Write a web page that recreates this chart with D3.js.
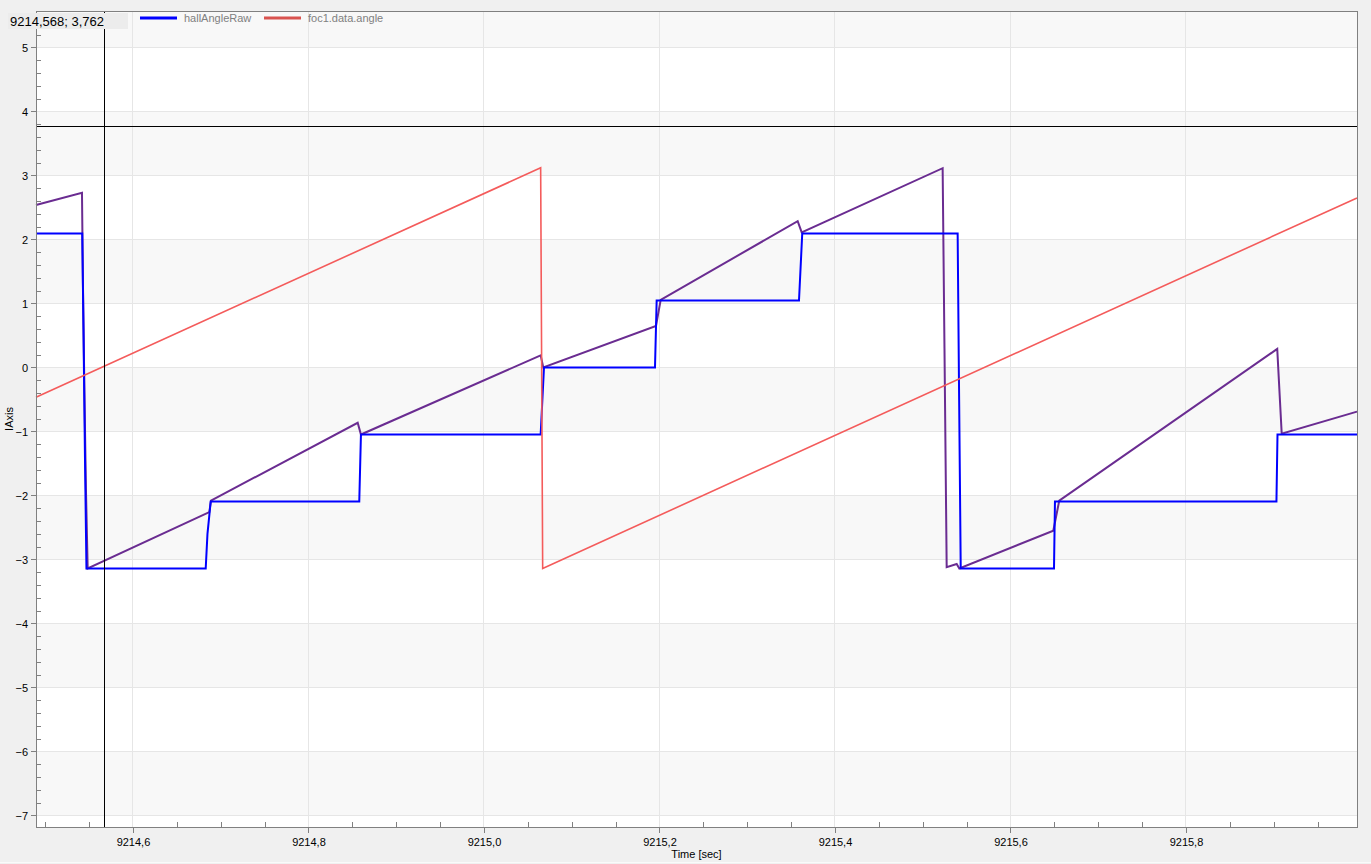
<!DOCTYPE html>
<html>
<head>
<meta charset="utf-8">
<script src="https://cdn.jsdelivr.net/npm/d3@7"></script>
<style>
  body { margin: 0; background: #f0f0f0; overflow: hidden; }
  svg { display: block; font-family: "Liberation Sans", Arial, sans-serif; }
</style>
</head>
<body>
<svg id="chart"></svg>
<script>
const width = 1371;
const height = 864;
const margin = {left: 36, top: 11, right: 14, bottom: 37};

// [time in sec, value]
const hallAngleRaw = [
  [9214.4895, 2.094], [9214.5422, 2.094], [9214.5436, 0.6], [9214.5453, -1.4], [9214.5470, -3.14],
  [9214.6829, -3.14], [9214.6849, -2.6], [9214.6886, -2.094], [9214.8579, -2.094], [9214.8598, -1.047],
  [9215.0646, -1.047], [9215.0684, 0], [9215.1949, 0], [9215.1968, 1.047], [9215.3590, 1.047],
  [9215.3627, 2.094], [9215.5398, 2.094], [9215.5415, -0.5], [9215.5433, -3.14], [9215.6496, -3.14],
  [9215.6507, -2.094], [9215.9031, -2.094], [9215.9043, -1.047], [9215.9949, -1.047]
];
const focAngle = [
  [9214.4895, -0.464], [9215.0646, 3.12], [9215.0669, -3.14], [9215.9949, 2.65]
];
// third trace, drawn without a legend entry
const estAngle = [
  [9214.4895, 2.54], [9214.5419, 2.73], [9214.5430, 1.3], [9214.5447, -0.4], [9214.5464, -1.9],
  [9214.5484, -3.14], [9214.6870, -2.26], [9214.6889, -2.08], [9214.8561, -0.864], [9214.8598, -1.047],
  [9215.0646, 0.19], [9215.0676, 0.0], [9215.1960, 0.65], [9215.2014, 1.058], [9215.3575, 2.286],
  [9215.3621, 2.11], [9215.5227, 3.114], [9215.5248, 0.3], [9215.5273, -3.12], [9215.5387, -3.07],
  [9215.5417, -3.14], [9215.6488, -2.55], [9215.6556, -2.08], [9215.9040, 0.29], [9215.9091, -1.036],
  [9215.9949, -0.69]
];

const xTicks = [9214.6, 9214.8, 9215.0, 9215.2, 9215.4, 9215.6, 9215.8];
const yTicks = [-7, -6, -5, -4, -3, -2, -1, 0, 1, 2, 3, 4, 5];
const legendNames = ['hallAngleRaw', 'foc1.data.angle'];
const cursor = [9214.568, 3.762];

const svg = d3.select('#chart').attr('width', width).attr('height', height);

const x = d3.scaleLinear()
  .domain([9214.4895, 9215.9949])
  .range([margin.left, width - margin.right]);
const y = d3.scaleLinear()
  .domain([-7.1797, 5.5703])
  .range([height - margin.bottom, margin.top]);

const pLeft = margin.left, pRight = width - margin.right;
const pTop = margin.top, pBottom = height - margin.bottom;

// plot background with alternating bands
svg.append('rect').attr('x', pLeft).attr('y', pTop)
  .attr('width', pRight - pLeft).attr('height', pBottom - pTop).attr('fill', '#ffffff');

const bandEdges = [-8, ...yTicks, 6];
const bands = svg.append('g').attr('shape-rendering', 'crispEdges');
for (let i = 0; i < bandEdges.length - 1; i++) {
  const v0 = bandEdges[i], v1 = bandEdges[i + 1];
  if (Math.abs(v0) % 2 !== 1) continue;
  const yTop = Math.max(y(v1), pTop), yBot = Math.min(y(v0), pBottom);
  if (yBot <= yTop) continue;
  bands.append('rect').attr('x', pLeft).attr('y', yTop)
    .attr('width', pRight - pLeft).attr('height', yBot - yTop).attr('fill', '#f8f8f8');
}

// grid
const grid = svg.append('g').attr('stroke', '#e6e6e6').attr('shape-rendering', 'crispEdges');
grid.selectAll('.gy').data(yTicks).enter().append('line')
  .attr('x1', pLeft).attr('x2', pRight).attr('y1', d => y(d)).attr('y2', d => y(d));
grid.selectAll('.gx').data(xTicks).enter().append('line')
  .attr('y1', pTop).attr('y2', pBottom).attr('x1', d => x(d)).attr('x2', d => x(d));

// series
const line = d3.line().x(d => x(d[0])).y(d => y(d[1]));
const plot = svg.append('g');
plot.append('path').datum(estAngle).attr('d', line)
  .attr('fill', 'none').attr('stroke', '#6a2c91').attr('stroke-width', 2);
plot.append('path').datum(hallAngleRaw).attr('d', line)
  .attr('fill', 'none').attr('stroke', '#0000ff').attr('stroke-width', 2);
plot.append('path').datum(focAngle).attr('d', line)
  .attr('fill', 'none').attr('stroke', '#f45b5b').attr('stroke-width', 1.6);

// cursor
const cur = svg.append('g').attr('stroke', '#000').attr('shape-rendering', 'crispEdges');
cur.append('line').attr('x1', x(cursor[0])).attr('x2', x(cursor[0])).attr('y1', pTop).attr('y2', pBottom);
cur.append('line').attr('x1', pLeft).attr('x2', pRight).attr('y1', y(cursor[1])).attr('y2', y(cursor[1]));

// frame
svg.append('rect').attr('x', pLeft).attr('y', pTop)
  .attr('width', pRight - pLeft).attr('height', pBottom - pTop)
  .attr('fill', 'none').attr('stroke', '#808080').attr('shape-rendering', 'crispEdges');

const fmt = d => d3.format('.1f')(d).replace('.', ',');

// axes
const yAxis = svg.append('g').attr('transform', `translate(${pLeft},0)`)
  .call(d3.axisLeft(y).tickValues(yTicks).tickSize(5).tickPadding(3).tickFormat(d3.format('d')));
const yMinor = svg.append('g').attr('transform', `translate(${pLeft},0)`)
  .call(d3.axisRight(y).tickValues(d3.range(-7, 5.6, 0.2).filter(v => Math.abs(v - Math.round(v)) > 0.01))
    .tickSize(5).tickFormat(''));
const xAxis = svg.append('g').attr('transform', `translate(0,${pBottom})`)
  .call(d3.axisBottom(x).tickValues(xTicks).tickSize(6).tickPadding(5).tickFormat(fmt));
const xMinor = svg.append('g').attr('transform', `translate(0,${pBottom})`)
  .call(d3.axisTop(x).tickValues(d3.range(9214.5, 9216, 0.05).filter(v => Math.abs(v * 5 - Math.round(v * 5)) > 0.01))
    .tickSize(5).tickFormat(''));

[yAxis, yMinor, xAxis, xMinor].forEach(a => {
  a.select('.domain').remove();
  a.selectAll('line').attr('stroke', '#808080').attr('shape-rendering', 'crispEdges');
  a.selectAll('text').attr('fill', '#000').style('font-size', '11px')
    .style('font-family', '"Liberation Sans", Arial, sans-serif');
});

// axis titles
svg.append('text').attr('x', (pLeft + pRight) / 2).attr('y', 858)
  .attr('text-anchor', 'middle').style('font-size', '11px').text('Time [sec]');
svg.append('text').attr('transform', `translate(13,${(pTop + pBottom) / 2}) rotate(-90)`)
  .attr('text-anchor', 'middle').style('font-size', '11px').text('IAxis');

svg.append('line').attr('x1', 0).attr('x2', width).attr('y1', 862.5).attr('y2', 862.5)
  .attr('stroke', '#fafafa');

// cursor readout
svg.append('rect').attr('x', 8).attr('y', 13).attr('width', 120).attr('height', 16).attr('fill', '#ececec');
svg.append('text').attr('x', 10).attr('y', 26).style('font-size', '13px').attr('fill', '#000')
  .text(`${d3.format('.3f')(cursor[0]).replace('.', ',')}; ${d3.format('.3f')(cursor[1]).replace('.', ',')}`);

// legend
const legendColors = ['#0000ff', '#d9534f'];
const legendX = [140, 264];
const legend = svg.append('g');
legendNames.forEach((name, i) => {
  legend.append('line').attr('x1', legendX[i]).attr('x2', legendX[i] + 37)
    .attr('y1', 18).attr('y2', 18).attr('stroke', legendColors[i]).attr('stroke-width', 3);
  legend.append('text').attr('x', legendX[i] + 44).attr('y', 22)
    .style('font-size', '11px').attr('fill', '#808080').text(name);
});
</script>
</body>
</html>
